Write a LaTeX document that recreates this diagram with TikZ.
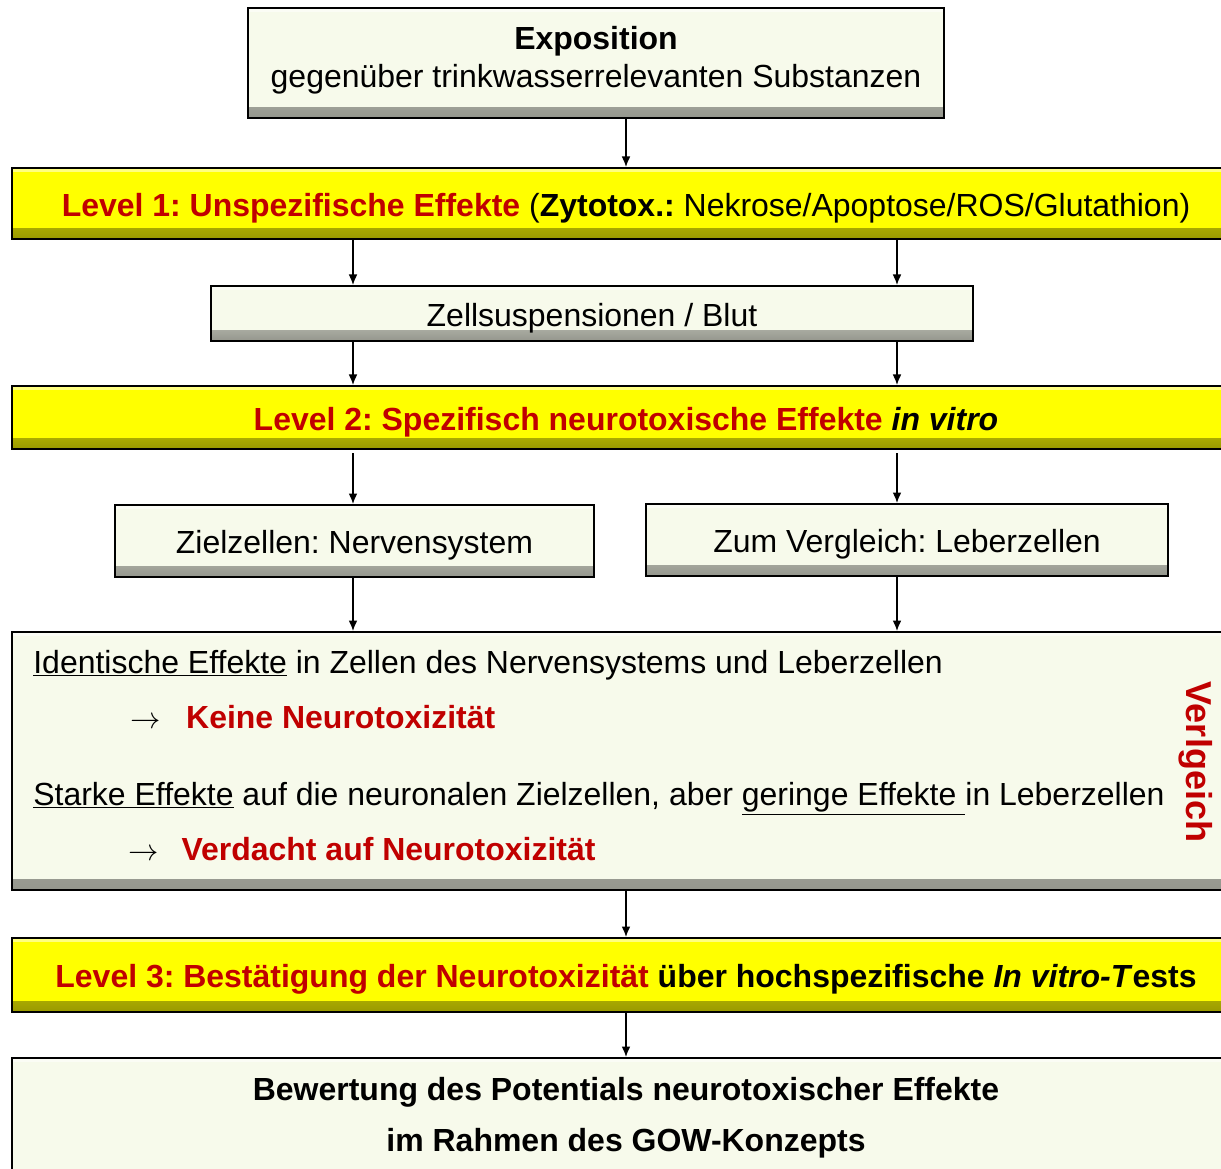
\documentclass[tikz,border=0pt]{standalone}
\usepackage{fontspec}
\setmainfont{Liberation Sans}
\usetikzlibrary{arrows.meta}
\frenchspacing

\definecolor{cream}{RGB}{247,250,235}
\definecolor{lvlyellow}{RGB}{255,255,0}
\definecolor{darkred}{RGB}{192,0,0}

\tikzset{
  box/.style={draw=black, line width=1.1pt, fill=#1, inner sep=0pt, align=center,
    font=\fontsize{18.2}{21.8}\selectfont,
    path picture={
      \shade[top color=#1, bottom color=#1!60!black]
        ([yshift=6pt]path picture bounding box.south west) rectangle (path picture bounding box.south east);
      \fill[white, opacity=0.5]
        ([yshift=-2pt]path picture bounding box.north west) rectangle (path picture bounding box.north east);
    }},
  oneline/.style={text height=16.5pt, text depth=2pt},
  flow/.style={line width=0.8pt, -{Latex[length=6pt,width=5pt]}},
  line/.style={anchor=base west, inner sep=0pt, font=\fontsize{18.2}{21.8}\selectfont},
}

\begin{document}
\begin{tikzpicture}[x=0.02cm, y=-0.02cm]
        \useasboundingbox (0,0) rectangle (1221,1169);
        \coordinate (cl) at (353,0);
        \coordinate (cm) at (626,0);
        \coordinate (cr) at (897,0);
        % boxes
        \node[box=cream, minimum width=13.92cm, minimum height=2.2cm] (expo) at (596,63) {};
        \node[align=center, inner sep=0pt, font=\fontsize{18.2}{21.8}\selectfont] (expotxt) at (596,60)
            {\textbf{Exposition}\\gegenüber trinkwasserrelevanten Substanzen};
        \node[box=lvlyellow, oneline, minimum width=24.56cm, minimum height=1.42cm] (lvl1) at (626,203.5)
            {\textcolor{darkred}{\textbf{Level 1: Unspezifische Effekte}} (\textbf{Zytotox.:} Nekrose/Apoptose/ROS/Glutathion)};
        \node[box=cream, oneline, minimum width=15.24cm, minimum height=1.1cm] (zell) at (592,313.5)
            {Zellsuspensionen / Blut};
        \node[box=lvlyellow, oneline, minimum width=24.56cm, minimum height=1.26cm] (lvl2) at (626,417.5)
            {\textbf{\textcolor{darkred}{Level 2: Spezifisch neurotoxische Effekte} \textit{in vitro}}};
        \node[box=cream, oneline, minimum width=9.58cm, minimum height=1.44cm] (ziel) at (354.5,541)
            {Zielzellen: Nervensystem};
        \node[box=cream, oneline, minimum width=10.44cm, minimum height=1.44cm] (leber) at (907,540)
            {Zum Vergleich: Leberzellen};
        \node[box=cream, minimum width=24.56cm, minimum height=5.16cm] (vgl) at (626,761) {};
        \node[box=lvlyellow, oneline, minimum width=24.56cm, minimum height=1.48cm] (lvl3) at (626,975)
            {\textbf{\textcolor{darkred}{Level 3: Bestätigung der Neurotoxizität} über hochspezifische \textit{In vitro-T}ests}};
        \node[box=cream, minimum width=24.56cm, minimum height=2.6cm] (bew) at (626,1123) {};
        \node[align=center, inner sep=0pt, font=\fontsize{18.2}{21.8}\selectfont\bfseries] (bewtxt) at (626,1117.5)
            {Bewertung des Potentials neurotoxischer Effekte\\[7pt]im Rahmen des GOW-Konzepts};
        % comparison text
        \node[line] (ident) at (33,673) {\underline{Identische Effekte} in Zellen des Nervensystems und Leberzellen};
        \node[line] (keine) at (130,728) {$\rightarrow$\hspace{14.5pt}\textcolor{darkred}{\textbf{Keine Neurotoxizität}}};
        \node[line] (stark) at (33,805) {\underline{Starke Effekte} auf die neuronalen Zielzellen, aber \underline{geringe Effekte\ }in Leberzellen};
        \node[line] (verd) at (128,860) {$\rightarrow$\hspace{13pt}\textcolor{darkred}{\textbf{Verdacht auf Neurotoxizität}}};
        \node[rotate=-90, font=\fontsize{20.5}{24}\selectfont\bfseries, text=darkred] (vlab) at (1196,762) {Verlgeich};
        % connectors
        \draw[flow] (expo.south -| cm) -- (lvl1.north -| cm);
        \draw[flow] (lvl1.south -| cl) -- (zell.north -| cl);
        \draw[flow] (lvl1.south -| cr) -- (zell.north -| cr);
        \draw[flow] (zell.south -| cl) -- (lvl2.north -| cl);
        \draw[flow] (zell.south -| cr) -- (lvl2.north -| cr);
        \draw[flow] ([yshift=-2pt]lvl2.south -| cl) -- (ziel.north -| cl);
        \draw[flow] ([yshift=-2pt]lvl2.south -| cr) -- (leber.north -| cr);
        \draw[flow] (ziel.south -| cl) -- (vgl.north -| cl);
        \draw[flow] (leber.south -| cr) -- (vgl.north -| cr);
        \draw[flow] (vgl.south -| cm) -- (lvl3.north -| cm);
        \draw[flow] (lvl3.south -| cm) -- (bew.north -| cm);
\end{tikzpicture}
\end{document}
